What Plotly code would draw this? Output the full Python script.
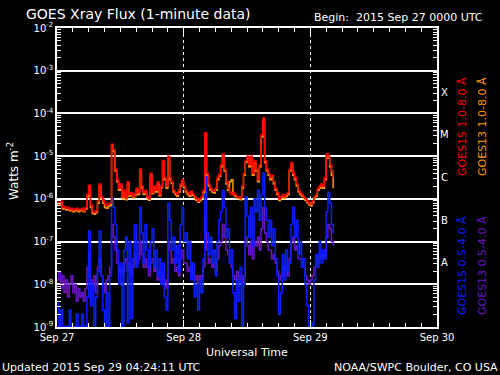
import pandas as pd
import plotly.graph_objects as go

# ---- data (log10 of flux in W m^-2), 20-minute samples from 2015-09-27 00:00 UTC ----
start_time = "2015-09-27 00:00"
step = "20min"

goes15_long_log = [
    -6.08, -6.12, -6.05, -6.20, -6.18, -6.22, -6.20, -6.25, -6.22, -6.27,
    -6.24, -6.22, -6.26, -6.25, -6.22, -6.28, -6.20, -5.90, -5.68, -6.15,
    -6.30, -6.32, -6.28, -6.05, -5.65, -5.95, -6.02, -6.12, -6.15, -6.10,
    -6.10, -4.72, -4.85, -5.30, -5.55, -5.75, -5.65, -5.95, -5.80, -5.98,
    -5.60, -5.90, -5.85, -5.95, -5.88, -5.75, -5.85, -5.30, -5.70, -5.85,
    -5.80, -5.95, -6.00, -5.40, -5.85, -5.70, -5.80, -5.60, -5.90, -5.70,
    -5.10, -5.50, -5.70, -5.00, -5.50, -5.60, -5.80, -5.85, -5.90, -5.80,
    -5.65, -5.55, -5.70, -5.80, -5.85, -5.90, -5.82, -5.88, -5.95, -6.00,
    -6.05, -6.00, -5.95, -5.80, -4.45, -5.40, -5.65, -5.75, -5.80, -5.82,
    -5.75, -5.50, -5.42, -5.20, -4.95, -5.30, -5.60, -5.75, -5.85, -5.90,
    -5.85, -5.90, -5.95, -5.95, -5.98, -5.70, -5.40, -5.10, -5.00, -5.20,
    -5.00, -5.40, -5.10, -5.30, -5.55, -5.20, -4.50, -4.10, -5.10, -5.30,
    -5.40, -5.50, -5.45, -5.60, -5.75, -5.85, -6.00, -5.95, -5.90, -5.95,
    -5.90, -5.85, -5.30, -5.15, -5.40, -5.50, -5.65, -5.80, -5.85, -5.90,
    -5.95, -6.00, -6.05, -6.10, -6.12, -6.05, -5.95, -5.90, -5.75, -5.70,
    -5.65, -5.70, -5.50, -4.95, -5.00, -5.20, -5.35, -5.50,
]

goes13_long_log = [
    -6.12, -6.15, -6.10, -6.24, -6.22, -6.26, -6.25, -6.28, -6.26, -6.30,
    -6.28, -6.26, -6.30, -6.28, -6.27, -6.30, -6.24, -5.95, -5.72, -6.20,
    -6.34, -6.36, -6.32, -6.10, -5.70, -6.00, -6.10, -6.20, -6.22, -6.18,
    -6.15, -4.76, -4.90, -5.35, -5.60, -5.80, -5.70, -6.00, -5.85, -6.02,
    -5.64, -5.94, -5.90, -5.98, -5.92, -5.80, -5.90, -5.35, -5.74, -5.90,
    -5.84, -5.98, -6.03, -5.45, -5.88, -5.74, -5.84, -5.65, -5.93, -5.74,
    -5.15, -5.55, -5.75, -5.05, -5.55, -5.64, -5.84, -5.90, -5.94, -5.84,
    -5.70, -5.60, -5.74, -5.84, -5.90, -5.94, -5.86, -5.92, -5.99, -6.04,
    -6.08, -6.04, -5.99, -5.85, -4.50, -5.45, -5.70, -5.80, -5.84, -5.86,
    -5.80, -5.55, -5.47, -5.25, -5.00, -5.35, -5.65, -5.80, -5.60, -5.55,
    -5.90, -5.94, -5.99, -5.99, -6.02, -5.75, -5.45, -5.15, -5.05, -5.25,
    -5.05, -5.45, -5.15, -5.35, -5.60, -5.25, -4.55, -4.15, -5.15, -5.35,
    -5.45, -5.55, -5.50, -5.65, -5.80, -5.90, -6.04, -5.99, -5.94, -5.99,
    -5.94, -5.90, -5.35, -5.20, -5.45, -5.55, -5.70, -5.84, -5.90, -5.94,
    -5.99, -6.04, -6.09, -6.14, -6.16, -6.09, -5.99, -5.94, -5.80, -5.75,
    -5.70, -5.75, -5.55, -5.00, -5.05, -5.25, -5.45, -5.75,
]

goes15_short_log = [
    -8.45, -8.98, -8.60, -8.98, -8.98, -8.98, -8.98, -8.60, -8.98, -8.98,
    -8.98, -8.70, -8.98, -8.98, -8.70, -8.98, -8.98, -8.30, -6.75, -8.50,
    -8.00, -8.98, -8.30, -7.70, -6.75, -7.80, -8.60, -8.98, -8.20, -8.98,
    -7.80, -6.00, -6.20, -6.60, -7.20, -8.00, -7.50, -8.98, -7.20, -6.90,
    -8.90, -7.00, -8.80, -7.40, -6.60, -7.60, -7.00, -6.20, -6.80, -7.50,
    -6.60, -7.20, -7.60, -7.00, -6.70, -7.60, -7.20, -7.80, -7.40, -8.00,
    -7.50, -8.30, -8.60, -6.10, -6.50, -7.20, -6.90, -7.50, -7.10, -7.70,
    -6.60, -6.20, -7.00, -6.80, -7.40, -7.00, -7.90, -7.50, -8.30, -8.00,
    -8.60, -7.90, -8.20, -7.40, -5.45, -6.80, -7.30, -6.90, -7.50, -7.20,
    -7.80, -7.00, -6.50, -6.30, -5.80, -6.20, -6.90, -6.70, -7.50, -7.20,
    -8.20, -8.80, -7.90, -8.40, -7.60, -8.98, -8.00, -5.95, -6.40, -6.90,
    -6.20, -7.10, -6.00, -6.30, -5.80, -6.50, -5.90, -5.40, -6.20, -6.50,
    -6.90, -6.50, -7.10, -6.70, -7.40, -7.80, -8.70, -8.20, -7.30, -7.90,
    -7.20, -7.70, -7.50, -6.60, -6.20, -6.90, -6.50, -7.30, -7.00, -7.60,
    -7.40, -8.00, -8.50, -8.98, -8.90, -8.98, -7.90, -7.30, -7.60, -7.00,
    -7.50, -7.20, -7.40, -6.30, -5.85, -6.10, -6.60, -6.80,
]

goes13_short_log = [
    -7.9, -7.7, -8.1, -7.8, -8.2, -7.9, -8.3, -8.0, -7.8, -8.2,
    -8.0, -8.4, -8.1, -8.3, -8.2, -8.4, -8.1, -7.6, -7.3, -7.9,
    -8.1, -7.8, -8.2, -7.6, -7.4, -7.8, -8.0, -8.2, -7.9, -7.8,
    -7.6, -6.6, -6.9, -7.2, -7.5, -7.7, -7.6, -7.8, -7.5, -7.4,
    -7.7, -7.5, -7.8, -7.6, -7.3, -7.5, -7.4, -7.0, -7.3, -7.6,
    -7.4, -7.6, -7.8, -7.5, -7.4, -7.7, -7.6, -7.9, -7.7, -8.0,
    -7.8, -7.9, -8.1, -7.0, -7.2, -7.5, -7.4, -7.7, -7.6, -7.8,
    -7.4, -7.2, -7.5, -7.5, -7.7, -7.6, -7.8, -7.7, -7.9, -7.8,
    -8.0, -7.8, -7.9, -7.6, -6.4, -7.2, -7.5, -7.4, -7.6, -7.5,
    -7.7, -7.4, -7.1, -7.0, -6.6, -6.9, -7.2, -7.3, -7.5, -7.6,
    -7.8, -7.9, -7.7, -7.9, -7.8, -8.0, -7.8, -6.9, -7.1, -7.3,
    -7.0, -7.4, -7.0, -7.1, -6.9, -7.2, -6.7, -6.2, -6.8, -7.0,
    -7.2, -7.2, -7.4, -7.3, -7.5, -7.7, -7.9, -7.8, -7.6, -7.8,
    -7.6, -7.8, -7.4, -7.0, -6.9, -7.2, -7.1, -7.4, -7.4, -7.6,
    -7.6, -7.8, -7.9, -8.0, -7.9, -7.8, -7.6, -7.4, -7.5, -7.3,
    -7.4, -7.3, -7.4, -6.9, -6.6, -6.7, -7.0, -7.1,
]

day_ticks = ["2015-09-27", "2015-09-28", "2015-09-29", "2015-09-30"]
day_labels = ["Sep 27", "Sep 28", "Sep 29", "Sep 30"]
decade_exponents = [-9, -8, -7, -6, -5, -4, -3, -2]
class_letters = ["A", "B", "C", "M", "X"]
class_exponents = [-7.5, -6.5, -5.5, -4.5, -3.5]

n = min(len(goes15_long_log), len(goes13_long_log), len(goes15_short_log), len(goes13_short_log))
times = pd.date_range(start_time, periods=n, freq=step)

def flux(lst):
    return [10 ** v for v in lst[:n]]

C_RED, C_ORANGE, C_BLUE, C_PURPLE = "#ff0000", "#ff9900", "#0a1eff", "#6a14c8"

series = [
    ("GOES13 0.5-4.0 Å", goes13_short_log, C_PURPLE),
    ("GOES15 0.5-4.0 Å", goes15_short_log, C_BLUE),
    ("GOES13 1.0-8.0 Å", goes13_long_log, C_ORANGE),
    ("GOES15 1.0-8.0 Å", goes15_long_log, C_RED),
]

fig = go.Figure()
for name, vals, col in series:
    fig.add_trace(go.Scatter(
        x=times, y=flux(vals), mode="lines", name=name,
        line=dict(color=col, width=1.5, shape="hv"),
    ))

FONT = "DejaVu Sans"
L, R, T, B = 57, 63, 28, 48
W, H = 500, 375
pw, ph = W - L - R, H - T - B

def px(xp):
    return (xp - L) / pw

def py(yp):
    return (H - B - yp) / ph

minor_vals = [k * 10.0 ** e for e in decade_exponents[:-1] for k in range(2, 10)]

fig.update_layout(
    width=W, height=H,
    paper_bgcolor="black", plot_bgcolor="black",
    margin=dict(l=L, r=R, t=T, b=B, pad=0),
    showlegend=False,
    font=dict(family=FONT, color="white", size=10),
    xaxis=dict(
        type="date", range=[day_ticks[0], day_ticks[-1]],
        tickvals=day_ticks, ticktext=day_labels,
        ticks="inside", ticklen=7, tickcolor="white", tickwidth=1,
        showline=True, linecolor="white", linewidth=1.5, mirror="allticks",
        showgrid=True, gridcolor="white", griddash="dot", gridwidth=1,
        zeroline=False,
        tickfont=dict(family=FONT, size=10, color="white"),
        minor=dict(dtick=3 * 3600 * 1000, ticks="inside", ticklen=4,
                   tickcolor="white", showgrid=False),
    ),
    yaxis=dict(
        type="log", range=[-9, -2],
        tickvals=[10.0 ** e for e in decade_exponents],
        ticktext=[f"10<sup>{e}</sup>" for e in decade_exponents],
        ticks="inside", ticklen=7, tickcolor="white",
        showline=True, linecolor="white", linewidth=1.5, mirror="allticks",
        showgrid=True, gridcolor="white", gridwidth=1.5,
        zeroline=False,
        tickfont=dict(family=FONT, size=10, color="white"),
        minor=dict(tickvals=minor_vals, ticks="inside", ticklen=4,
                   tickcolor="white", showgrid=False),
    ),
)

ann = []
ann.append(dict(text="GOES Xray Flux (1-minute data)", x=px(24), y=py(14),
                xanchor="left", yanchor="middle", font=dict(size=14)))
ann.append(dict(text="Begin:  2015 Sep 27 0000 UTC", x=px(312), y=py(17),
                xanchor="left", yanchor="middle", font=dict(size=11)))
ann.append(dict(text="Watts m<sup>-2</sup>", x=px(13), y=py(171), textangle=-90,
                xanchor="center", yanchor="middle", font=dict(size=12)))
ann.append(dict(text="Universal Time", x=px(247), y=py(352),
                xanchor="center", yanchor="middle", font=dict(size=11)))
ann.append(dict(text="Updated 2015 Sep 29 04:24:11 UTC", x=px(0), y=py(367),
                xanchor="left", yanchor="middle", font=dict(size=11)))
ann.append(dict(text="NOAA/SWPC Boulder, CO USA", x=px(500), y=py(367),
                xanchor="right", yanchor="middle", font=dict(size=11)))
for letter, e in zip(class_letters, class_exponents):
    ann.append(dict(text=letter, x=px(444), y=(e + 9) / 7,
                    xanchor="center", yanchor="middle", font=dict(size=10)))
legend_pos = [
    ("GOES15 1.0-8.0 Å", C_RED, 462, 127),
    ("GOES13 1.0-8.0 Å", C_ORANGE, 482, 127),
    ("GOES15 0.5-4.0 Å", C_BLUE, 462, 266),
    ("GOES13 0.5-4.0 Å", C_PURPLE, 482, 266),
]
for txt, col, xx, yy in legend_pos:
    ann.append(dict(text=txt, x=px(xx), y=py(yy), textangle=-90,
                    xanchor="center", yanchor="middle",
                    font=dict(size=11, color=col)))
for a in ann:
    a.update(xref="paper", yref="paper", showarrow=False)
fig.update_layout(annotations=ann)

fig.write_html(
    "out.html",
    config={"displayModeBar": False},
    post_script="document.body.style.margin='0';document.body.style.background='black';",
)
